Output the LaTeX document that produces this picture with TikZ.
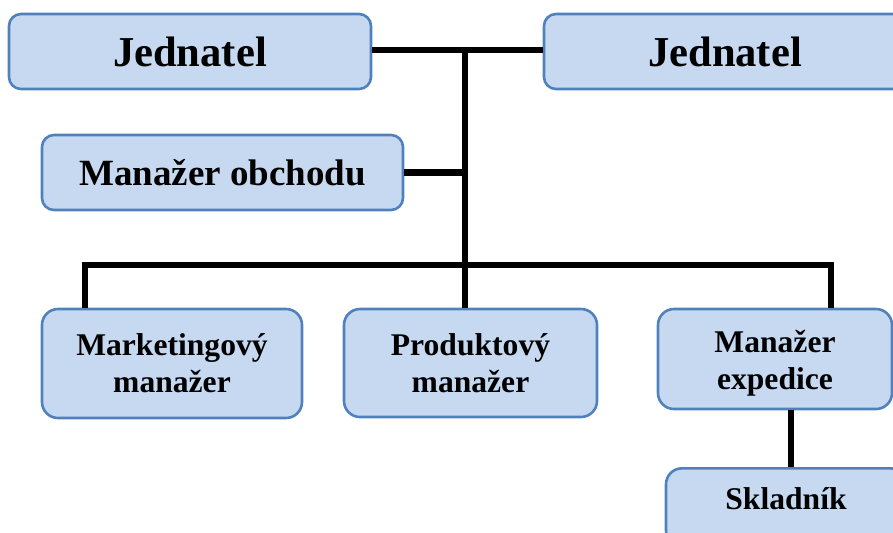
\documentclass[tikz,border=0pt]{standalone}
\usepackage{fontspec}
\setmainfont{Liberation Serif}
\definecolor{boxfill}{RGB}{198,217,241}
\definecolor{boxline}{RGB}{79,129,189}
\begin{document}
\begin{tikzpicture}[x=0.5pt,y=-0.5pt,
  orgbox/.style={draw=boxline, fill=boxfill, line width=1.3pt,
    rectangle, rounded corners=6pt, inner sep=0pt, align=center,
    font=\bfseries},
  bigbox/.style={orgbox, font=\bfseries\fontsize{21.3}{25}\selectfont},
  midbox/.style={orgbox, font=\bfseries\fontsize{18.5}{22}\selectfont},
  smallbox/.style={orgbox, rounded corners=8pt,
    font=\bfseries\fontsize{15.8}{18.5}\selectfont},
  link/.style={line width=3.1pt, black}]
\useasboundingbox (0,0) rectangle (893,532);
\begin{scope}
\clip (0,0) rectangle (893,532);
% top level
\node[bigbox, minimum width=181pt, minimum height=37.5pt] (j1) at (190,51.5) {Jednatel};
\node[bigbox, minimum width=181pt, minimum height=37.5pt] (j2) at (725,51.5) {Jednatel};
\node[midbox, minimum width=180.5pt, minimum height=37.5pt] (mo) at (222.5,172.5) {Manažer obchodu};
% managers
\node[smallbox, minimum width=130pt, minimum height=54.5pt] (mm) at (172,363.5) {Marketingový\\manažer};
\node[smallbox, minimum width=126.5pt, minimum height=54pt] (pm) at (470.5,363) {Produktový\\manažer};
\node[smallbox, minimum width=117pt, minimum height=50pt] (me) at (775,359) {\rule{0pt}{15pt}Manažer\\expedice};
\node[smallbox, minimum width=120pt, minimum height=39pt, anchor=north] (sk) at (786,467) {\rule[-9pt]{0pt}{0pt}Skladník};
% connectors
\coordinate (hub) at (465,50);
\coordinate (barL) at (85,265);
\coordinate (barM) at (465,265);
\coordinate (barR) at (831,265);
\draw[link] (j1.east |- hub) -- (j2.west |- hub);
\draw[link] (hub) -- (barM);
\draw[link] (mo.east) -- (mo.east -| hub);
\draw[link] (barL |- mm.north) -- (barL) -- (barR) -- (barR |- me.north);
\draw[link] (barM) -- (barM |- pm.north);
\draw[link] ([xshift=8pt]me.south) -- ([xshift=8pt]me.south |- sk.north);
\end{scope}
\end{tikzpicture}
\end{document}
